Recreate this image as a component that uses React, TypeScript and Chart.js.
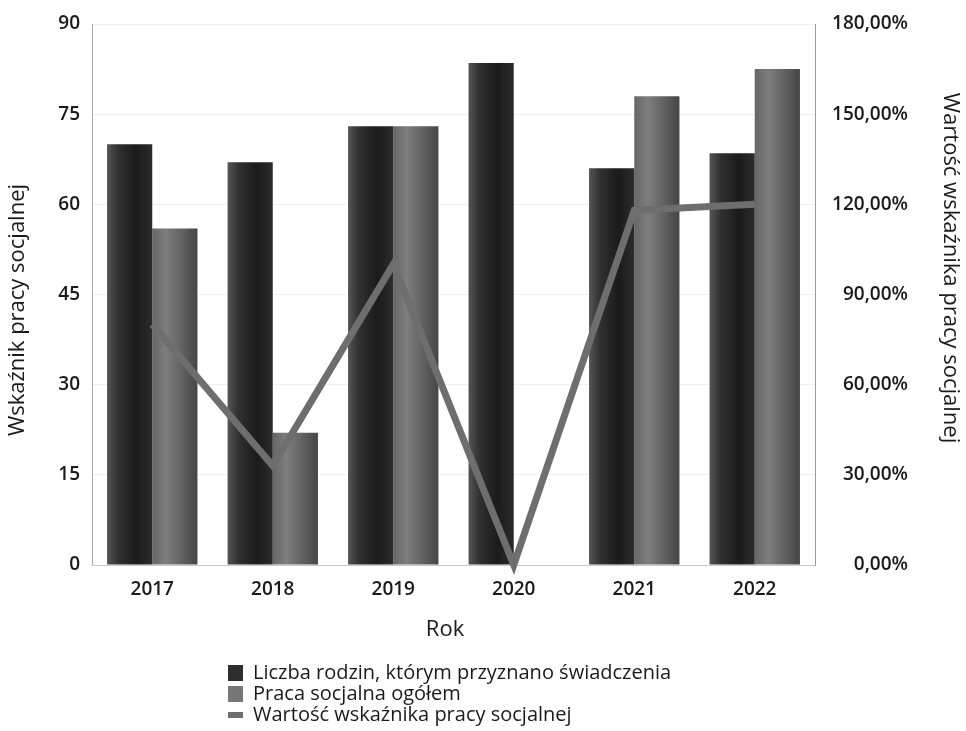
import React, { useEffect, useRef } from "react";
import { Chart, registerables } from "chart.js";

Chart.register(...registerables);

const years = ["2017", "2018", "2019", "2020", "2021", "2022"];
const rodziny = [70, 67, 73, 83.5, 66, 68.5];
const pracaSocjalna = [56, 22, 73, 0, 78, 82.5];
const wskaznik = [80, 33, 100, 0, 118, 120];

const seriesNames = [
  "Liczba rodzin, którym przyznano świadczenia",
  "Praca socjalna ogółem",
  "Wartość wskaźnika pracy socjalnej",
];
const xTitle = "Rok";
const yLeftTitle = "Wskaźnik pracy socjalnej";
const yRightTitle = "Wartość wskaźnika pracy socjalnej";

const FONT = "'Open Sans', 'Noto Sans', sans-serif";
const CAT_PCT = 0.75;

function barGradient(ctx: any, which: number) {
  const chart = ctx.chart;
  const xs = chart.scales?.x;
  if (!xs || !chart.chartArea) return which === 0 ? "#2a2a2a" : "#6e6e6e";
  const center = xs.getPixelForValue(ctx.dataIndex);
  const catW = xs.width / years.length;
  const group = catW * CAT_PCT;
  const left = which === 0 ? center - group / 2 : center;
  const right = left + group / 2;
  const g = chart.ctx.createLinearGradient(left, 0, right, 0);
  if (which === 0) {
    g.addColorStop(0, "#545454");
    g.addColorStop(0.25, "#303030");
    g.addColorStop(0.65, "#1b1b1b");
    g.addColorStop(1, "#2c2c2c");
  } else {
    g.addColorStop(0, "#666666");
    g.addColorStop(0.3, "#7e7e7e");
    g.addColorStop(0.7, "#5e5e5e");
    g.addColorStop(1, "#454545");
  }
  return g;
}

const extrasPlugin = {
  id: "extras",
  afterDraw(chart: any) {
    const ctx = chart.ctx;
    ctx.save();
    ctx.fillStyle = "#1a1a1a";
    ctx.textAlign = "center";
    ctx.textBaseline = "middle";
    ctx.font = `22px ${FONT}`;
    ctx.fillText(xTitle, 445, 630);
    ctx.save();
    ctx.translate(18, 310);
    ctx.rotate(-Math.PI / 2);
    ctx.fillText(yLeftTitle, 0, 0);
    ctx.restore();
    ctx.save();
    ctx.translate(950, 268);
    ctx.rotate(Math.PI / 2);
    ctx.fillText(yRightTitle, 0, 0);
    ctx.restore();
    const rows = [673, 694, 715];
    ctx.textAlign = "left";
    ctx.font = `20px ${FONT}`;
    rows.forEach((y, i) => {
      if (i === 0) {
        ctx.fillStyle = "#2e2e2e";
        ctx.fillRect(228, y - 8, 15, 16);
      } else if (i === 1) {
        ctx.fillStyle = "#777777";
        ctx.fillRect(228, y - 8, 15, 16);
      } else {
        ctx.fillStyle = "#6e6e6e";
        ctx.fillRect(228, y - 3, 15, 6);
      }
      ctx.fillStyle = "#1a1a1a";
      ctx.fillText(seriesNames[i], 253, y);
    });
    ctx.restore();
  },
};

export default function App() {
  const ref = useRef<HTMLCanvasElement>(null);
  useEffect(() => {
    document.body.style.margin = "0";
    const canvas = ref.current!;
    const tickFont = { family: FONT, size: 19, weight: "600" } as any;
    const chart = new Chart(canvas, {
      type: "bar",
      data: {
        labels: years,
        datasets: [
          {
            type: "bar",
            label: seriesNames[0],
            data: rodziny,
            backgroundColor: (c: any) => barGradient(c, 0),
            yAxisID: "y",
            order: 2,
            categoryPercentage: CAT_PCT,
            barPercentage: 1,
          },
          {
            type: "bar",
            label: seriesNames[1],
            data: pracaSocjalna,
            backgroundColor: (c: any) => barGradient(c, 1),
            yAxisID: "y",
            order: 2,
            categoryPercentage: CAT_PCT,
            barPercentage: 1,
          },
          {
            type: "line",
            label: seriesNames[2],
            data: wskaznik,
            borderColor: "#6e6e6e",
            backgroundColor: "#6e6e6e",
            borderWidth: 7,
            pointRadius: 0,
            yAxisID: "y1",
            order: 0,
            clip: false as any,
          } as any,
        ],
      },
      options: {
        responsive: false,
        animation: false,
        layout: { padding: { top: 24, left: 0, right: 58, bottom: 81 } },
        plugins: {
          legend: { display: false },
          tooltip: { enabled: false },
        },
        scales: {
          x: {
            offset: true,
            grid: { display: false, drawTicks: false },
            border: { display: true, color: "#c8c8c8", width: 1 },
            ticks: { padding: 13, color: "#1a1a1a", font: tickFont },
            afterFit: (s: any) => {
              s.height = 85;
            },
          },
          y: {
            position: "left",
            min: 0,
            max: 90,
            ticks: { stepSize: 15, padding: 12, color: "#1a1a1a", font: tickFont },
            grid: { color: "#f0f0f0", drawTicks: false },
            border: { display: true, color: "#a8a8a8", width: 1 },
            afterFit: (s: any) => {
              s.width = 92;
            },
          },
          y1: {
            position: "right",
            min: 0,
            max: 180,
            ticks: {
              stepSize: 30,
              padding: 10,
              crossAlign: "far",
              color: "#1a1a1a",
              font: tickFont,
              callback: (v: any) => Number(v).toFixed(2).replace(".", ",") + "%",
            },
            grid: { display: false, drawTicks: false },
            border: { display: true, color: "#9a9a9a", width: 1 },
            afterFit: (s: any) => {
              s.width = 93;
            },
          },
        },
      },
      plugins: [extrasPlugin],
    });
    return () => chart.destroy();
  }, []);
  return (
    <div style={{ width: 966, height: 731, background: "#fff" }}>
      <canvas ref={ref} width={966} height={731} style={{ display: "block" }} />
    </div>
  );
}
